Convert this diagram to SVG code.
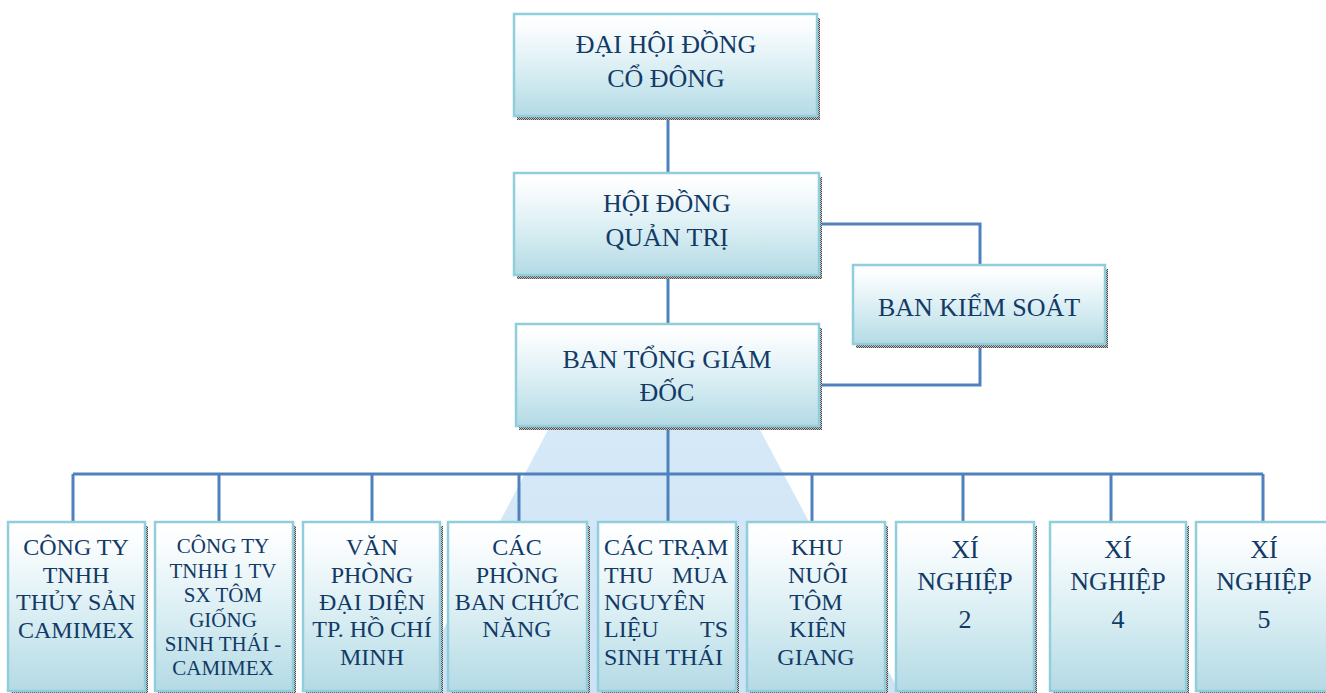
<svg xmlns="http://www.w3.org/2000/svg" width="1326" height="693" viewBox="0 0 1326 693">
<defs>
<linearGradient id="g" x1="0" y1="0" x2="0" y2="1">
<stop offset="0" stop-color="#FFFFFF"/>
<stop offset="0.12" stop-color="#FBFDFE"/>
<stop offset="0.55" stop-color="#D9EEF3"/>
<stop offset="1" stop-color="#B4DAE5"/>
</linearGradient>
<linearGradient id="wm" x1="0" y1="0" x2="0" y2="1">
<stop offset="0" stop-color="#D6E9F8"/>
<stop offset="1" stop-color="#CCE3F6"/>
</linearGradient>
<pattern id="dots" width="2" height="2" patternUnits="userSpaceOnUse">
<rect width="2" height="2" fill="#C4C4C4"/>
<rect width="1" height="1" fill="#4A4A4A"/>
<rect x="1" y="1" width="1" height="1" fill="#4A4A4A"/>
</pattern>
<style>
.box{fill:url(#g);stroke:#92CDDC;stroke-width:2.5}
.sh{fill:url(#dots)}
text{font-family:"Liberation Serif","Times New Roman",serif;fill:#123A66;text-anchor:middle}
.big{font-size:26px}
.mid{font-size:24px}
.sm{font-size:21px}
.l{text-anchor:start}
.r{text-anchor:end}
.c{fill:none;stroke:#4F81BD;stroke-width:3}
</style>
</defs>
<rect width="1326" height="693" fill="#FFFFFF"/>
<polygon id="watermark" points="550,426 758,426 900,693 410,693" fill="url(#wm)"/>

<g id="connectors">
<path class="c" d="M668,116V173"/>
<path class="c" d="M668,275V324"/>
<path class="c" d="M819,224H980V265"/>
<path class="c" d="M819,385H980V344"/>
<path class="c" d="M668,426V474"/>
<path class="c" d="M73,474H1263"/>
<path class="c" d="M73,474V522M219,474V522M372,474V522M519,474V522M668,474V522M812,474V522M963,474V522M1111,474V522M1263,474V522"/>
</g>

<g id="dhdcd">
<rect class="sh" x="517" y="18" width="303" height="102"/>
<rect class="box" x="514" y="14" width="303" height="102"/>
<text class="big" x="666" y="53">ĐẠI HỘI ĐỒNG</text>
<text class="big" x="666" y="87">CỔ ĐÔNG</text>
</g>

<g id="hdqt">
<rect class="sh" x="517" y="177" width="305" height="102"/>
<rect class="box" x="514" y="173" width="305" height="102"/>
<text class="big" x="667" y="212">HỘI ĐỒNG</text>
<text class="big" x="667" y="246">QUẢN TRỊ</text>
</g>

<g id="bks">
<rect class="sh" x="856" y="269" width="252" height="79"/>
<rect class="box" x="853" y="265" width="252" height="79"/>
<text class="big" x="979" y="316">BAN KIỂM SOÁT</text>
</g>

<g id="btgd">
<rect class="sh" x="519" y="328" width="303" height="102"/>
<rect class="box" x="516" y="324" width="303" height="102"/>
<text class="big" x="667" y="368">BAN TỔNG GIÁM</text>
<text class="big" x="667" y="401">ĐỐC</text>
</g>

<g id="n1">
<rect class="sh" x="11" y="526" width="137" height="169"/>
<rect class="box" x="8" y="522" width="137" height="169"/>
<text class="mid" x="76" y="555">CÔNG TY</text>
<text class="mid" x="76" y="583">TNHH</text>
<text class="mid" x="76" y="610">THỦY SẢN</text>
<text class="mid" x="76" y="638">CAMIMEX</text>
</g>

<g id="n2">
<rect class="sh" x="158" y="526" width="138" height="169"/>
<rect class="box" x="155" y="522" width="138" height="169"/>
<text class="sm" x="223" y="553">CÔNG TY</text>
<text class="sm" x="223" y="578">TNHH 1 TV</text>
<text class="sm" x="223" y="602">SX TÔM</text>
<text class="sm" x="223" y="627">GIỐNG</text>
<text class="sm" x="223" y="651">SINH THÁI -</text>
<text class="sm" x="223" y="675">CAMIMEX</text>
</g>

<g id="n3">
<rect class="sh" x="306" y="526" width="137" height="169"/>
<rect class="box" x="303" y="522" width="137" height="169"/>
<text class="mid" x="372" y="555">VĂN</text>
<text class="mid" x="372" y="583">PHÒNG</text>
<text class="mid" x="372" y="610">ĐẠI DIỆN</text>
<text class="mid" x="372" y="637">TP. HỒ CHÍ</text>
<text class="mid" x="372" y="665">MINH</text>
</g>

<g id="n4">
<rect class="sh" x="451" y="526" width="139" height="169"/>
<rect class="box" x="448" y="522" width="139" height="169"/>
<text class="mid" x="517" y="555">CÁC</text>
<text class="mid" x="517" y="583">PHÒNG</text>
<text class="mid" x="517" y="610">BAN CHỨC</text>
<text class="mid" x="517" y="637">NĂNG</text>
</g>

<g id="n5">
<rect class="sh" x="601" y="526" width="138" height="169"/>
<rect class="box" x="598" y="522" width="138" height="169"/>
<text class="mid l" x="604" y="555">CÁC TRẠM</text>
<text class="mid l" x="604" y="583">THU</text>
<text class="mid r" x="728" y="583">MUA</text>
<text class="mid l" x="604" y="610">NGUYÊN</text>
<text class="mid l" x="604" y="637">LIỆU</text>
<text class="mid r" x="728" y="637">TS</text>
<text class="mid l" x="604" y="665">SINH THÁI</text>
</g>

<g id="n6">
<rect class="sh" x="750" y="526" width="138" height="169"/>
<rect class="box" x="747" y="522" width="138" height="169"/>
<text class="mid" x="817" y="555">KHU</text>
<text class="mid" x="818" y="583">NUÔI</text>
<text class="mid" x="816" y="610">TÔM</text>
<text class="mid" x="818" y="637">KIÊN</text>
<text class="mid" x="816" y="665">GIANG</text>
</g>

<g id="n7">
<rect class="sh" x="899" y="526" width="138" height="169"/>
<rect class="box" x="896" y="522" width="138" height="169"/>
<text class="big" x="965" y="558">XÍ</text>
<text class="big" x="965" y="590">NGHIỆP</text>
<text class="big" x="965" y="628">2</text>
</g>

<g id="n8">
<rect class="sh" x="1053" y="526" width="136" height="169"/>
<rect class="box" x="1050" y="522" width="136" height="169"/>
<text class="big" x="1118" y="558">XÍ</text>
<text class="big" x="1118" y="590">NGHIỆP</text>
<text class="big" x="1118" y="628">4</text>
</g>

<g id="n9">
<rect class="sh" x="1199" y="526" width="137" height="169"/>
<rect class="box" x="1196" y="522" width="137" height="169"/>
<text class="big" x="1264" y="558">XÍ</text>
<text class="big" x="1264" y="590">NGHIỆP</text>
<text class="big" x="1264" y="628">5</text>
</g>
</svg>
